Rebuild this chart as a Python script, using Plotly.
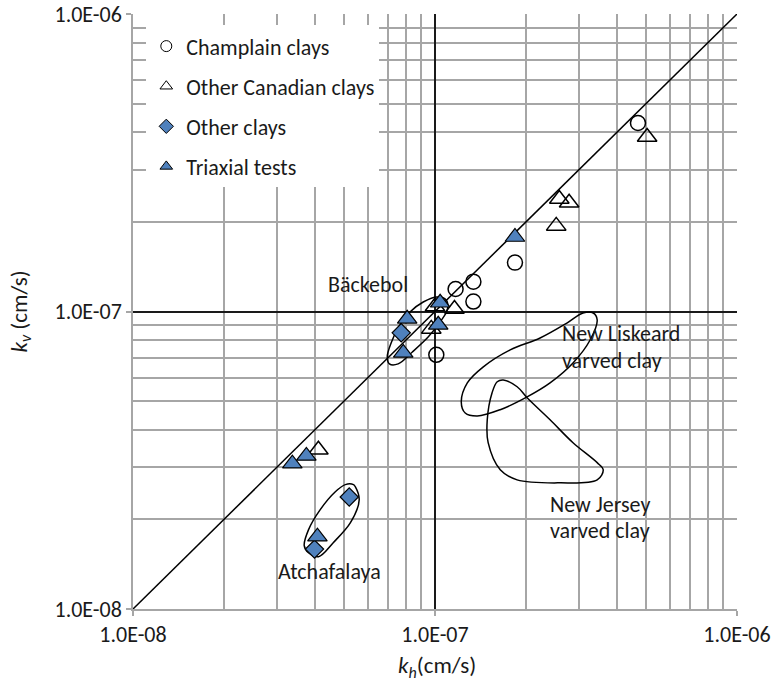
import plotly.graph_objects as go

# ---------------- data (cm/s) ----------------
champlain_kh = [4.70e-7, 1.84e-7, 1.34e-7, 1.17e-7, 1.34e-7, 1.01e-7]
champlain_kv = [4.30e-7, 1.46e-7, 1.26e-7, 1.19e-7, 1.08e-7, 7.15e-8]

canadian_kh = [5.04e-7, 2.58e-7, 2.78e-7, 2.52e-7, 1.16e-7, 1.00e-7, 9.72e-8, 4.11e-8]
canadian_kv = [3.86e-7, 2.39e-7, 2.32e-7, 1.94e-7, 1.02e-7, 1.04e-7, 8.74e-8, 3.43e-8]

other_kh = [7.73e-8, 5.20e-8, 3.99e-8]
other_kv = [8.48e-8, 2.38e-8, 1.59e-8]

triax_kh = [1.84e-7, 1.04e-7, 8.09e-8, 1.025e-7, 7.85e-8, 3.37e-8, 3.75e-8, 4.08e-8]
triax_kv = [1.78e-7, 1.07e-7, 9.45e-8, 9.02e-8, 7.26e-8, 3.08e-8, 3.27e-8, 1.75e-8]

line_11 = [1e-8, 1e-6]

# outlines of the grouped data (log10 of cm/s)
backebol_lkh = [-7.158, -7.145, -7.122, -7.082, -7.039, -6.993, -6.963, -6.959, -6.983, -7.022, -7.075, -7.122, -7.151, -7.158]
backebol_lkv = [-7.152, -7.105, -7.055, -7.001, -6.968, -6.951, -6.961, -6.994, -7.035, -7.085, -7.136, -7.176, -7.176, -7.152]

atcha_lkh = [-7.264, -7.251, -7.280, -7.337, -7.386, -7.419, -7.433, -7.419, -7.380, -7.330, -7.297, -7.270, -7.264]
atcha_lkv = [-7.589, -7.633, -7.710, -7.777, -7.824, -7.811, -7.787, -7.734, -7.666, -7.606, -7.582, -7.582, -7.589]

liskeard_lkh = [-6.476, -6.463, -6.486, -6.543, -6.619, -6.695, -6.784, -6.860, -6.900, -6.913, -6.893, -6.840, -6.751, -6.652, -6.562, -6.510, -6.476]
liskeard_lkv = [-7.005, -7.028, -7.095, -7.173, -7.240, -7.287, -7.330, -7.351, -7.341, -7.304, -7.240, -7.186, -7.129, -7.089, -7.038, -7.005, -7.005]

jersey_lkh = [-6.774, -6.728, -6.695, -6.619, -6.543, -6.463, -6.443, -6.463, -6.586, -6.728, -6.784, -6.824, -6.827, -6.811, -6.794, -6.774]
jersey_lkv = [-7.230, -7.253, -7.290, -7.364, -7.441, -7.508, -7.532, -7.566, -7.576, -7.566, -7.532, -7.441, -7.364, -7.273, -7.236, -7.230]

tick_vals = [1e-8, 1e-7, 1e-6]
tick_text = ["1.0E-08", "1.0E-07", "1.0E-06"]

FONT = "Carlito, Calibri, Lato, sans-serif"
BLUE = "#4F81BD"
GRID = "#A6A6A6"
TXT = "#1a1a1a"

fig = go.Figure()

# 1:1 line
fig.add_trace(go.Scatter(x=line_11, y=line_11, mode="lines",
                         line=dict(color="black", width=1.5), showlegend=False, hoverinfo="skip"))

# outlines
for lkh, lkv in [(backebol_lkh, backebol_lkv), (atcha_lkh, atcha_lkv),
                 (liskeard_lkh, liskeard_lkv), (jersey_lkh, jersey_lkv)]:
    fig.add_trace(go.Scatter(x=[10 ** v for v in lkh], y=[10 ** v for v in lkv], mode="lines",
                             line=dict(color="black", width=1.5, shape="spline", smoothing=1.0),
                             showlegend=False, hoverinfo="skip"))

# data series
series = [
    ("Champlain clays", champlain_kh, champlain_kv, "circle-open", "black", 15, 1.5, "black"),
    ("Other Canadian clays", canadian_kh, canadian_kv, "triangle-up-open", "black", 17, 1.5, "black"),
    ("Other clays", other_kh, other_kv, "diamond", BLUE, 14, 1.2, "black"),
    ("Triaxial tests", triax_kh, triax_kv, "triangle-up", BLUE, 17, 1.2, "black"),
]
for i, (name, xs, ys, sym, col, size, lw, lc) in enumerate(series):
    fig.add_trace(go.Scatter(x=xs, y=ys, mode="markers", name=name, showlegend=False,
                             marker=dict(symbol=sym, color=col, size=size,
                                         line=dict(color=lc, width=lw))))
    # legend entry
    fig.add_trace(go.Scatter(x=[None], y=[None], mode="markers", name=name,
                             legendgroup="g%d" % i, showlegend=True,
                             marker=dict(symbol=sym, color=col, size=11,
                                         line=dict(color=lc, width=1))))

axis_common = dict(
    type="log", range=[-8, -6], tickmode="array", tickvals=tick_vals, ticktext=tick_text,
    showgrid=True, gridcolor=TXT, gridwidth=1.5,
    minor=dict(dtick="D1", showgrid=True, gridcolor=GRID, gridwidth=1.5, ticks=""),
    showline=True, linecolor=GRID, linewidth=1.5,
    ticks="outside", ticklen=5, tickcolor=GRID, tickwidth=1.5,
    tickfont=dict(family=FONT, size=22, color=TXT),
    zeroline=False, mirror=False, automargin=False,
)

fig.update_layout(
    width=776, height=683,
    margin=dict(l=133, r=39, t=14, b=74, autoexpand=False),
    paper_bgcolor="white", plot_bgcolor="white",
    font=dict(family=FONT, size=22, color=TXT),
    xaxis=dict(**axis_common),
    yaxis=dict(**axis_common),
    showlegend=True,
    legend=dict(x=0.022, y=0.981, xanchor="left", yanchor="top",
                bgcolor="white", borderwidth=0, tracegroupgap=8.5,
                font=dict(family=FONT, size=22, color=TXT),
                itemwidth=30, traceorder="grouped"),
)

# text labels (positions in log10 units)
labels = [
    ("Bäckebol", -7.221, -6.910, "center"),
    ("New Liskeard", -6.586, -7.075, "left"),
    ("varved clay", -6.586, -7.166, "left"),
    ("New Jersey", -6.625, -7.650, "left"),
    ("varved clay", -6.625, -7.735, "left"),
    ("Atchafalaya", -7.350, -7.875, "center"),
]
for txt, lx, ly, anc in labels:
    fig.add_annotation(x=lx, y=ly, xref="x", yref="y", text=txt, showarrow=False,
                       xanchor=anc, yanchor="middle",
                       font=dict(family=FONT, size=22, color=TXT))

# axis titles
fig.add_annotation(x=-0.187, y=0.5, xref="paper", yref="paper",
                   text="<i>k<sub>v</sub></i> (cm/s)", textangle=-90, showarrow=False,
                   xanchor="center", yanchor="middle",
                   font=dict(family=FONT, size=23, color=TXT))
fig.add_annotation(x=0.503, y=-0.096, xref="paper", yref="paper",
                   text="<i>k<sub>h</sub></i>(cm/s)", showarrow=False,
                   xanchor="center", yanchor="middle",
                   font=dict(family=FONT, size=23, color=TXT))

fig.write_html("out.html")
